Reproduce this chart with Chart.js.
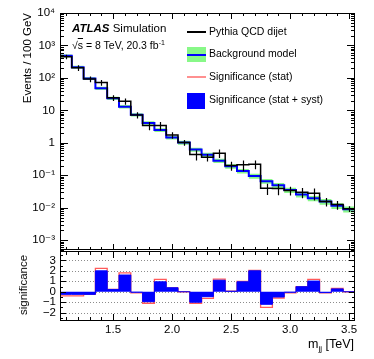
<!DOCTYPE html>
<html lang="en">
<head>
<meta charset="utf-8">
<title>Pythia QCD dijet vs background model</title>
<script src="https://cdn.jsdelivr.net/npm/chart.js@4.4.1/dist/chart.umd.min.js"></script>
<style>
  html, body { margin: 0; padding: 0; background: #fff; }
  #plot { position: relative; width: 374px; height: 359px; overflow: hidden;
          font-family: "Liberation Sans", Arial, Helvetica, sans-serif; color: #000; }
  #plot canvas { position: absolute; left: 0; }
  #mainCanvas { top: 0; }
  #sigCanvas { top: 240px; }
  .lbl { position: absolute; white-space: nowrap; line-height: 1; }
  .atlas { left: 72px; top: 23px; font-size: 11.5px; }
  .atlas b { font-style: italic; }
  .energy { left: 72px; top: 40px; font-size: 10.5px; }
  .energy .ov { text-decoration: overline; }
  .energy sup { font-size: 7px; vertical-align: 4px; line-height: 0; }
  .leg { left: 209px; font-size: 10.5px; }
  .sym { position: absolute; }
  .rot { font-size: 11.5px; transform-origin: 0 0; }
  .xtitle { right: 20px; top: 338px; font-size: 12.5px; }
  .xtitle sub { font-size: 8px; vertical-align: -3px; line-height: 0; }
</style>
</head>
<body>
<div id="plot">
  <canvas id="mainCanvas" width="374" height="252"></canvas>
  <canvas id="sigCanvas" width="374" height="119"></canvas>

  <div class="lbl atlas"><b>ATLAS</b> Simulation</div>
  <div class="lbl energy">√<span class="ov">s</span> = 8 TeV, 20.3 fb<sup>-1</sup></div>

  <div class="sym" style="left:187px; top:31px; width:19px; height:1.5px; background:#000;"></div>
  <div class="lbl leg" style="top:26px;">Pythia QCD dijet</div>
  <div class="sym" style="left:187px; top:47px; width:19px; height:15px; background:#88f888;"></div>
  <div class="sym" style="left:187px; top:53.5px; width:19px; height:2px; background:#0000ff;"></div>
  <div class="lbl leg" style="top:48px;">Background model</div>
  <div class="sym" style="left:187px; top:76px; width:19px; height:2px; background:#ff9090;"></div>
  <div class="lbl leg" style="top:71px;">Significance (stat)</div>
  <div class="sym" style="left:187px; top:93px; width:18px; height:16px; background:#0000ff;"></div>
  <div class="lbl leg" style="top:94px;">Significance (stat + syst)</div>

  <div class="lbl rot" style="left:22px; top:13px; transform: rotate(-90deg) translate(-100%, 0);">Events / 100 GeV</div>
  <div class="lbl rot" style="left:18px; top:285px; transform: rotate(-90deg) translate(-50%, 0);">significance</div>
  <div class="lbl xtitle">m<sub>jj</sub> [TeV]</div>
</div>

<script>
// bin centres in TeV (bins are 100 GeV wide)
const massBins = [1.1, 1.2, 1.3, 1.4, 1.5, 1.6, 1.7, 1.8, 1.9, 2.0, 2.1, 2.2, 2.3,
                  2.4, 2.5, 2.6, 2.7, 2.8, 2.9, 3.0, 3.1, 3.2, 3.3, 3.4, 3.5];
const binWidth = 0.1;

// Pythia QCD dijet (events / 100 GeV) and its relative stat. error
const pythiaEvents = [450, 205, 92, 72, 24.5, 19, 7.2, 3.4, 3.4, 1.73, 1.02, 0.44, 0.36,
                      0.48, 0.2, 0.21, 0.22, 0.04, 0.039, 0.034, 0.030, 0.028, 0.0155, 0.0125, 0.0093];
const pythiaRelErr = [0.16, 0.2, 0.2, 0.2, 0.2, 0.22, 0.22, 0.28, 0.3, 0.23, 0.2, 0.35, 0.26,
                      0.29, 0.31, 0.36, 0.3, 0.38, 0.38, 0.3, 0.35, 0.4, 0.3, 0.3, 0.2];

// background model and its relative uncertainty (green band)
const bkgModel = [480, 215, 96, 48, 23.5, 13, 7.3, 4.1, 2.5, 1.45, 1.02, 0.62, 0.43,
                  0.28, 0.19, 0.135, 0.095, 0.066, 0.049, 0.035, 0.0255, 0.0195, 0.0155, 0.0115, 0.009];
const bkgRelUnc = [0.10, 0.10, 0.10, 0.11, 0.11, 0.12, 0.12, 0.12, 0.13, 0.13, 0.14, 0.14, 0.15,
                   0.15, 0.16, 0.16, 0.17, 0.17, 0.18, 0.18, 0.19, 0.19, 0.20, 0.20, 0.21];

// significance per bin
const sigStatSyst = [-0.25, -0.25, -0.25, 2.0, 0.22, 1.6, -0.05, -0.95, 0.95, 0.38, 0.0, -1.0, -0.47,
                     1.1, 0.05, 0.95, 2.0, -1.2, -0.5, -0.05, 0.48, 1.02, -0.08, 0.27, 0.0];
const sigStat = [-0.4, -0.4, -0.25, 2.23, 0.22, 1.8, -0.1, -1.1, 1.18, 0.38, 0.0, -1.1, -0.63,
                 1.2, 0.05, 1.0, 2.05, -1.5, -0.6, -0.1, 0.48, 1.18, -0.1, 0.33, 0.0];

// axis ticks
const massTicks = [1.5, 2, 2.5, 3, 3.5];
const decadeTicks = [1e-3, 1e-2, 1e-1, 1, 10, 100, 1e3, 1e4];
const decadeLabels = ['10⁻³', '10⁻²', '10⁻¹', '1', '10', '10²', '10³', '10⁴'];
const sigTicks = [-2, -1, 0, 1, 2, 3];
const sigLabels = ['−2', '−1', '0', '1', '2', '3'];

const FONT = "'Liberation Sans', 'DejaVu Sans', Arial, sans-serif";
Chart.defaults.font.family = FONT;
Chart.defaults.color = '#000';

/* ---------- helpers ---------- */
// histogram outline: a point on each low edge, plus the upper edge of the last bin
// (stepped 'before' = hold the previous value until the next edge)
function stepPoints(values) {
    const pts = massBins.map((c, i) => ({ x: c - binWidth / 2, y: values[i] }));
    pts.push({ x: massBins[massBins.length - 1] + binWidth / 2, y: values[values.length - 1] });
    return pts;
}

function minorTicks(from, to, step, skip) {
    const out = [];
    for (let v = from; v <= to + 1e-9; v += step) {
        const r = Math.round(v * 100) / 100;
        if (!skip.some(s => Math.abs(s - r) < 1e-6)) out.push(r);
    }
    return out;
}

const logMinor = [];
for (let d = -4; d <= 3; d++) {
    for (let k = 2; k <= 9; k++) logMinor.push(k * Math.pow(10, d));
}

/* ---------- ROOT-like frame with inside ticks ---------- */
const rootFrame = {
    id: 'rootFrame',
    beforeDatasetsDraw(chart, args, opts) {
        if (!opts.gridY) return;
        const { ctx, chartArea: a, scales: { y } } = chart;
        ctx.save();
        ctx.strokeStyle = '#8c8c8c';
        ctx.setLineDash([1, 2]);
        ctx.lineWidth = 1;
        ctx.beginPath();
        opts.gridY.forEach(v => {
            const py = Math.round(y.getPixelForValue(v)) + 0.5;
            ctx.moveTo(a.left, py);
            ctx.lineTo(a.right, py);
        });
        ctx.stroke();
        ctx.restore();
    },
    afterDraw(chart, args, opts) {
        const { ctx, chartArea: a, scales: { x, y } } = chart;
        ctx.save();
        ctx.strokeStyle = '#000';
        ctx.lineWidth = 1;
        ctx.beginPath();
        const xTicks = (vals, len) => vals.forEach(v => {
            const px = Math.round(x.getPixelForValue(v)) + 0.5;
            ctx.moveTo(px, a.bottom); ctx.lineTo(px, a.bottom - len);
            ctx.moveTo(px, a.top); ctx.lineTo(px, a.top + len);
        });
        const yTicks = (vals, len) => vals.forEach(v => {
            if (v < y.min || v > y.max) return;
            const py = Math.round(y.getPixelForValue(v)) + 0.5;
            ctx.moveTo(a.left, py); ctx.lineTo(a.left + len, py);
            ctx.moveTo(a.right, py); ctx.lineTo(a.right - len, py);
        });
        xTicks(opts.xMajor, opts.xLen[0]);
        xTicks(opts.xMinor, opts.xLen[1]);
        yTicks(opts.yMajor, opts.yLen[0]);
        yTicks(opts.yMinor, opts.yLen[1]);
        ctx.stroke();
        ctx.strokeRect(a.left + 0.5, a.top + 0.5, a.width - 1, a.height - 1);
        ctx.restore();
    }
};

// vertical stat. error bars on the Pythia histogram
const mcErrors = {
    id: 'mcErrors',
    afterDatasetsDraw(chart) {
        const { ctx, chartArea: a, scales: { x, y } } = chart;
        ctx.save();
        ctx.beginPath();
        ctx.rect(a.left, a.top, a.width, a.height);
        ctx.clip();
        ctx.strokeStyle = '#000';
        ctx.lineWidth = 1.2;
        ctx.beginPath();
        massBins.forEach((m, i) => {
            const v = pythiaEvents[i], e = v * pythiaRelErr[i];
            const px = Math.round(x.getPixelForValue(m)) + 0.5;
            ctx.moveTo(px, y.getPixelForValue(v + e));
            ctx.lineTo(px, y.getPixelForValue(v - e));
        });
        ctx.stroke();
        ctx.restore();
    }
};

const xMinor = minorTicks(1.1, 3.5, 0.1, massTicks);

/* ---------- upper panel ---------- */
const bandHi = bkgModel.map((v, i) => v * (1 + bkgRelUnc[i]));
const bandLo = bkgModel.map((v, i) => v * (1 - bkgRelUnc[i]));
const bkgLine = stepPoints(bkgModel);
bkgLine.push({ x: massBins[massBins.length - 1] + binWidth / 2, y: 1e-6 });

new Chart(document.getElementById('mainCanvas'), {
    type: 'line',
    data: {
        datasets: [
            { data: stepPoints(bandHi), stepped: 'before', borderWidth: 0, borderColor: 'rgba(0,0,0,0)',
              backgroundColor: '#88f888', fill: '+1', order: 3 },
            { data: stepPoints(bandLo), stepped: 'before', borderWidth: 0, borderColor: 'rgba(0,0,0,0)',
              fill: false, order: 3 },
            { data: bkgLine, stepped: 'before', borderColor: '#0000ff', borderWidth: 2, fill: false, order: 1 },
            { data: stepPoints(pythiaEvents), stepped: 'before', borderColor: '#000', borderWidth: 1.5,
              fill: false, order: 0 }
        ]
    },
    options: {
        responsive: false,
        animation: false,
        layout: { padding: { top: 13, right: 19, bottom: 2, left: 0 } },
        elements: { point: { radius: 0, hitRadius: 0 }, line: { tension: 0 } },
        plugins: {
            legend: { display: false },
            tooltip: { enabled: false },
            rootFrame: { xMajor: massTicks, xMinor: xMinor, xLen: [6, 3],
                         yMajor: decadeTicks, yMinor: logMinor, yLen: [8, 4] }
        },
        scales: {
            x: { type: 'linear', min: 1.05, max: 3.55, display: false },
            y: {
                type: 'logarithmic', min: 5e-4, max: 1e4,
                grid: { display: false, drawTicks: false },
                border: { display: false },
                afterBuildTicks: s => { s.ticks = decadeTicks.map(v => ({ value: v })); },
                afterFit: s => { s.width = 60; s.paddingTop = 0; s.paddingBottom = 0; },
                ticks: { padding: 5, autoSkip: false, font: { size: 11.5 },
                         callback: (v, i) => decadeLabels[i] }
            }
        }
    },
    plugins: [rootFrame, mcErrors]
});

/* ---------- significance panel ---------- */
new Chart(document.getElementById('sigCanvas'), {
    type: 'line',
    data: {
        datasets: [
            { data: stepPoints(sigStatSyst), stepped: 'before', borderColor: '#0000ff', borderWidth: 1,
              backgroundColor: '#0000ff', fill: 'origin', order: 0 },
            { data: stepPoints(sigStat), stepped: 'before', borderColor: '#ff5a5a', borderWidth: 1.3,
              fill: false, order: 1 }
        ]
    },
    options: {
        responsive: false,
        animation: false,
        layout: { padding: { top: 11, right: 19, bottom: 0, left: 0 } },
        elements: { point: { radius: 0, hitRadius: 0 }, line: { tension: 0 } },
        plugins: {
            legend: { display: false },
            tooltip: { enabled: false },
            rootFrame: { xMajor: massTicks, xMinor: xMinor, xLen: [7, 4],
                         yMajor: sigTicks, yMinor: [-2.5, -1.5, -0.5, 0.5, 1.5, 2.5, 3.5], yLen: [6, 3],
                         gridY: [-2, -1, 0, 1, 2, 3] }
        },
        scales: {
            x: {
                type: 'linear', min: 1.05, max: 3.55,
                grid: { display: false, drawTicks: false },
                border: { display: false },
                afterBuildTicks: s => { s.ticks = massTicks.map(v => ({ value: v })); },
                afterFit: s => { s.height = 38; s.paddingLeft = 0; s.paddingRight = 0; },
                ticks: { padding: 2, autoSkip: false, maxRotation: 0, font: { size: 11.5 } }
            },
            y: {
                type: 'linear', min: -2.8, max: 3.9,
                grid: { display: false, drawTicks: false },
                border: { display: false },
                afterBuildTicks: s => { s.ticks = sigTicks.map(v => ({ value: v })); },
                afterFit: s => { s.width = 60; s.paddingTop = 0; s.paddingBottom = 0; },
                ticks: { padding: 4, autoSkip: false, font: { size: 11.5 },
                         callback: (v, i) => sigLabels[i] }
            }
        }
    },
    plugins: [rootFrame]
});
</script>
</body>
</html>
